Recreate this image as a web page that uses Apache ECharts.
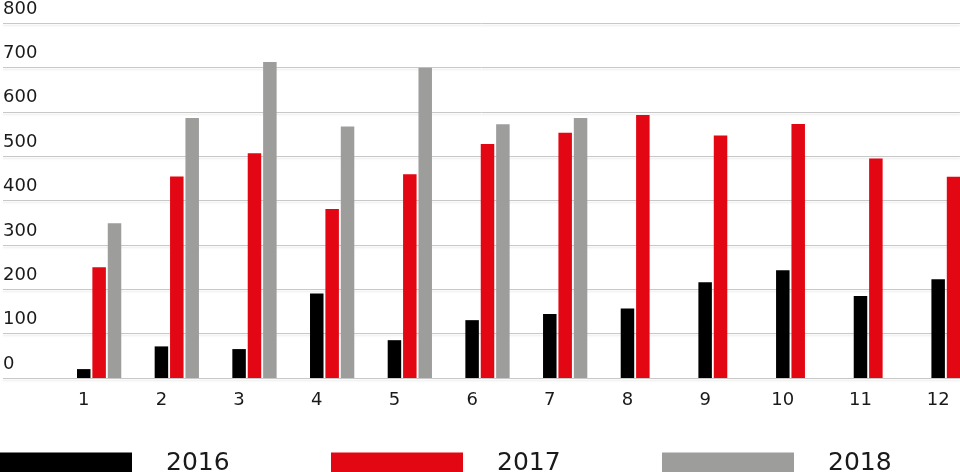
<!DOCTYPE html>
<html>
<head>
<meta charset="utf-8">
<script src="https://cdn.jsdelivr.net/npm/echarts@6/dist/echarts.min.js"></script>
<style>
  html, body { margin: 0; padding: 0; background: #fff; overflow: hidden; width: 960px; height: 472px; }
  #chart { width: 977px; height: 472px; }
</style>
</head>
<body>
<div id="chart"></div>
<script>
const categories = ['1', '2', '3', '4', '5', '6', '7', '8', '9', '10', '11', '12'];
const values2016 = [20, 71, 65, 190, 85, 130, 144, 156, 215, 242, 184, 222];
const values2017 = [249, 453, 505, 380, 458, 526, 551, 591, 545, 571, 493, 452];
const values2018 = [348, 584, 710, 565, 697, 570, 584];
const seriesNames = ['2016', '2017', '2018'];
const seriesColors = ['#000000', '#e30613', '#9d9d9c'];
const yMin = 0, yMax = 800, yStep = 100;

const FONT = 'DejaVu Sans';
const chart = echarts.init(document.getElementById('chart'), null, { renderer: 'canvas' });

const barStyle = { barWidth: 13.5, barGap: '14%' };

function legendAt(left, name) {
  return {
    left: left, top: 451, padding: 0,
    icon: 'rect', itemWidth: 132, itemHeight: 22,
    data: [name], selectedMode: false,
    textStyle: { fontFamily: FONT, fontSize: 25, color: '#1a1a1a', padding: [0, 0, 0, 29] }
  };
}

chart.setOption({
  animation: false,
  grid: [
    { left: 44.9, top: 22, height: 356, right: 0, containLabel: false },
    { left: 0, right: 17, top: 22, height: 356, containLabel: false }
  ],
  legend: [legendAt(0, '2016'), legendAt(331, '2017'), legendAt(662, '2018')],
  xAxis: [
    {
      type: 'category', gridIndex: 0, data: categories,
      axisLine: { show: false }, axisTick: { show: false }, splitLine: { show: false },
      axisLabel: { fontFamily: FONT, fontSize: 18, color: '#1a1a1a', margin: 13 }
    },
    { type: 'value', gridIndex: 1, show: false, min: 0, max: 1 }
  ],
  yAxis: [
    { type: 'value', gridIndex: 0, min: yMin, max: yMax, interval: yStep, show: false },
    {
      type: 'value', gridIndex: 1, min: yMin, max: yMax, interval: yStep,
      axisLine: { show: false }, axisTick: { show: false },
      splitLine: { show: true, lineStyle: { color: '#c8c8c8', width: 1, shadowColor: 'rgba(0,0,0,0.10)', shadowOffsetY: 2, shadowBlur: 2 } },
      axisLabel: {
        inside: true, margin: 0, align: 'left', verticalAlign: 'bottom',
        padding: [0, 0, 5, 0],
        fontFamily: FONT, fontSize: 18, color: '#1a1a1a'
      }
    }
  ],
  series: [
    { type: 'bar', name: 'pad1', xAxisIndex: 0, yAxisIndex: 0, data: [], ...barStyle, silent: true },
    { type: 'bar', name: 'pad2', xAxisIndex: 0, yAxisIndex: 0, data: [], ...barStyle, silent: true },
    { type: 'bar', name: seriesNames[0], xAxisIndex: 0, yAxisIndex: 0, data: values2016, itemStyle: { color: seriesColors[0] }, ...barStyle },
    { type: 'bar', name: seriesNames[1], xAxisIndex: 0, yAxisIndex: 0, data: values2017, itemStyle: { color: seriesColors[1] }, ...barStyle },
    { type: 'bar', name: seriesNames[2], xAxisIndex: 0, yAxisIndex: 0, data: values2018, itemStyle: { color: seriesColors[2] }, ...barStyle }
  ]
});
</script>
</body>
</html>
